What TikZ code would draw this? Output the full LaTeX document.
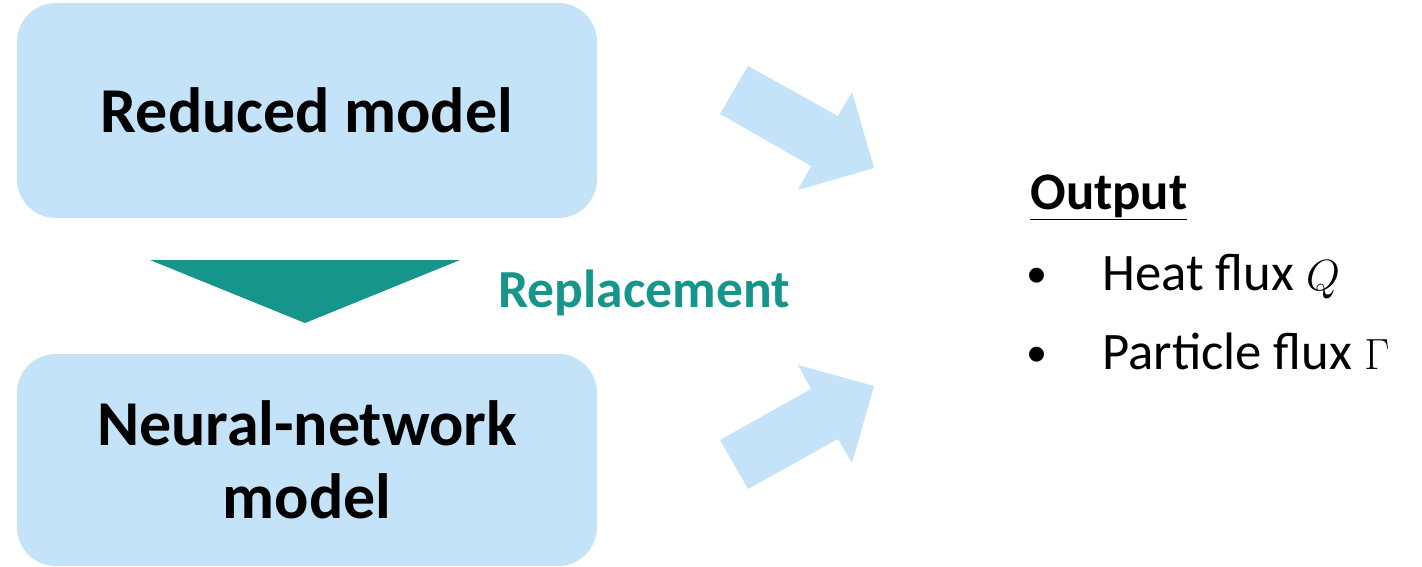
\documentclass[tikz,border=0pt]{standalone}
\usepackage{fontspec}
\setmainfont{Carlito}
\definecolor{boxblue}{RGB}{197,227,248}
\definecolor{repgreen}{RGB}{22,150,138}
\begin{document}
\begin{tikzpicture}[x=0.02cm, y=-0.02cm,
    modelbox/.style={fill=boxblue, rounded corners=22pt, minimum width=11.6cm,
        align=center, font=\fontsize{36.4}{41.5}\selectfont\bfseries},
    fatarrow/.style={fill=boxblue},
    outtext/.style={anchor=base west, inner sep=0pt, font=\fontsize{30}{34}\selectfont}]
    \useasboundingbox (0,0) rectangle (1422,566);

    % Left: the two models
    \node[modelbox, minimum height=4.3cm] (reduced) at (307,110.5) {Reduced model};
    \node[modelbox, minimum height=4.24cm] (neural) at (307,460) {Neural-network\\model};

    % Replacement triangle
    \fill[repgreen] (150,260) -- (460,260) -- (305,323) -- cycle;
    \node[font=\fontsize{30.5}{35}\selectfont\bfseries, text=repgreen, anchor=base west, inner sep=0pt]
        (repl) at (498,307) {Replacement};

    % Fat arrows towards the output
    \fill[fatarrow] (748,66) -- (838,116) -- (852,92) -- (874,168) -- (798,190) -- (811,166) -- (720,114) -- cycle;
    \fill[fatarrow] (720,440) -- (811,389) -- (798,365) -- (874,386) -- (852,463) -- (838,439) -- (748,489) -- cycle;

    % Right: output list
    \node[outtext, font=\fontsize{30}{34}\selectfont\bfseries] (out) at (1030,209) {\underline{Output}};
    \foreach \n/\y/\t in {heat/290/{Heat flux $Q$}, part/369/{Particle flux $\Gamma$}} {
        \node[anchor=base, inner sep=0pt, font=\fontsize{24}{28}\selectfont] (b\n) at (1037,\y-3) {\textbullet};
        \node[outtext] (\n) at (1102,\y) {\t};
    }
\end{tikzpicture}
\end{document}
